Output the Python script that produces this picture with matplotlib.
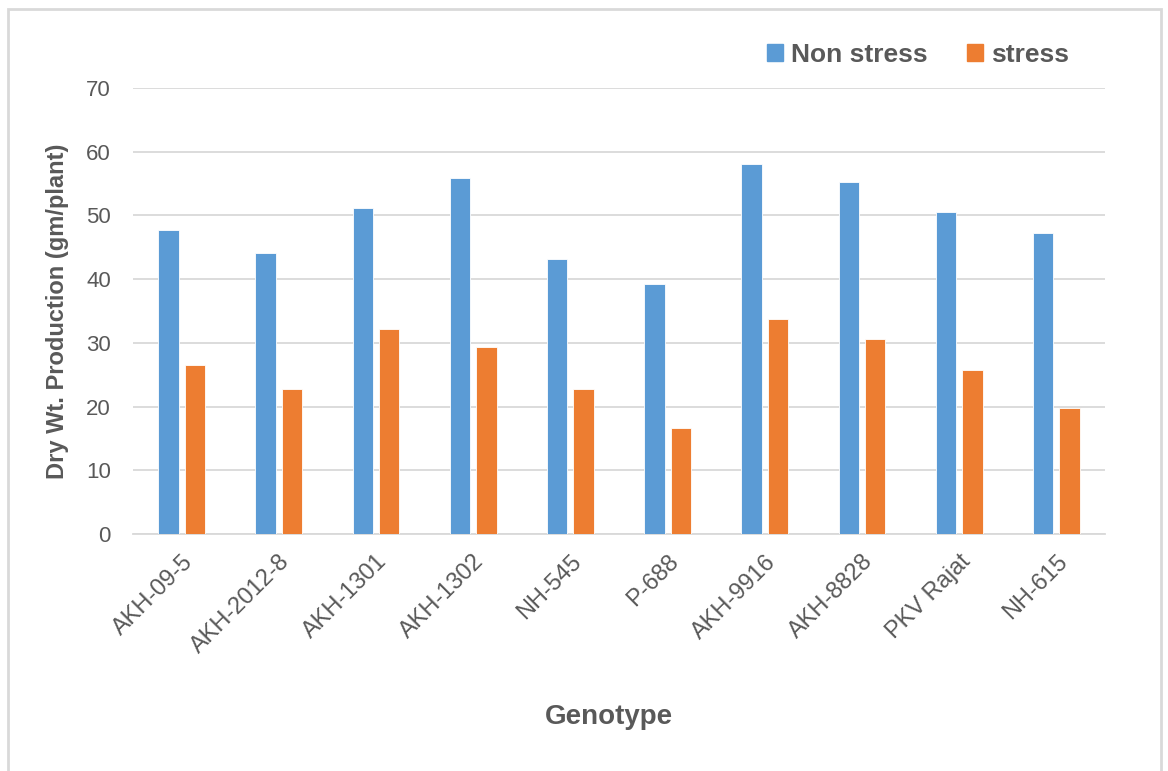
import matplotlib.pyplot as plt
import matplotlib.patches as mpatches
import numpy as np

plt.rcParams['font.family'] = ['Liberation Sans', 'DejaVu Sans']

genotypes = ["AKH-09-5", "AKH-2012-8", "AKH-1301", "AKH-1302", "NH-545",
             "P-688", "AKH-9916", "AKH-8828", "PKV Rajat", "NH-615"]
non_stress = [47.7, 44.1, 51.1, 55.9, 43.1, 39.3, 58.1, 55.3, 50.5, 47.3]
stress = [26.6, 22.7, 32.2, 29.4, 22.7, 16.7, 33.7, 30.6, 25.8, 19.8]

text_col = "#595959"
blue = "#5b9bd5"
orange = "#ed7d31"

fig = plt.figure(figsize=(11.68, 7.71), dpi=100)
ax = fig.add_axes([133 / 1168, 1 - 534 / 771, (1105 - 133) / 1168, (534 - 88) / 771])

x = np.arange(len(genotypes))
w = 0.21
ax.bar(x - 0.135, non_stress, w, color=blue, edgecolor="white", linewidth=0.6,
       label="Non stress", zorder=3)
ax.bar(x + 0.135, stress, w, color=orange, edgecolor="white", linewidth=0.6,
       label="stress", zorder=3)

ax.set_xlim(-0.5, len(genotypes) - 0.5)
ax.set_ylim(0, 70)
ax.set_yticks(range(0, 71, 10))
ax.yaxis.grid(True, color="#d9d9d9", linewidth=1.3, zorder=0)
for s in ["top", "right", "left"]:
    ax.spines[s].set_visible(False)
ax.spines["bottom"].set_color("#d9d9d9")
ax.spines["bottom"].set_linewidth(1.3)
ax.tick_params(axis="both", length=0, colors=text_col, labelsize=16)
ax.tick_params(axis="x", labelsize=17, pad=12)
ax.tick_params(axis="y", pad=16)
ax.set_xticks(x)
ax.set_xticklabels(genotypes, rotation=45, ha="right", rotation_mode="anchor")

ax.set_ylabel("Dry Wt. Production (gm/plant)", fontsize=17, fontweight="bold",
              color=text_col, labelpad=12)
fig.text(609 / 1168, 1 - 717 / 771, "Genotype", fontsize=20,
         fontweight="bold", color=text_col, ha="center", va="center")

handles = [mpatches.Patch(color=blue, label="Non stress"),
           mpatches.Patch(color=orange, label="stress")]
fig.legend(handles=handles, loc="center", bbox_to_anchor=(918 / 1168, 1 - 55 / 771),
           ncol=2, frameon=False, prop={"size": 19, "weight": "bold"},
           labelcolor=text_col, handlelength=0.6, handleheight=0.6,
           handletextpad=0.3, columnspacing=1.5)

# outer chart frame
fig.patches.append(mpatches.Rectangle((8 / 1168, -0.01), (1161 - 8) / 1168, 1 - 9 / 771 + 0.01,
                                      transform=fig.transFigure, fill=False,
                                      edgecolor="#d9d9d9", linewidth=2))

fig.savefig("out.png", dpi=100)
